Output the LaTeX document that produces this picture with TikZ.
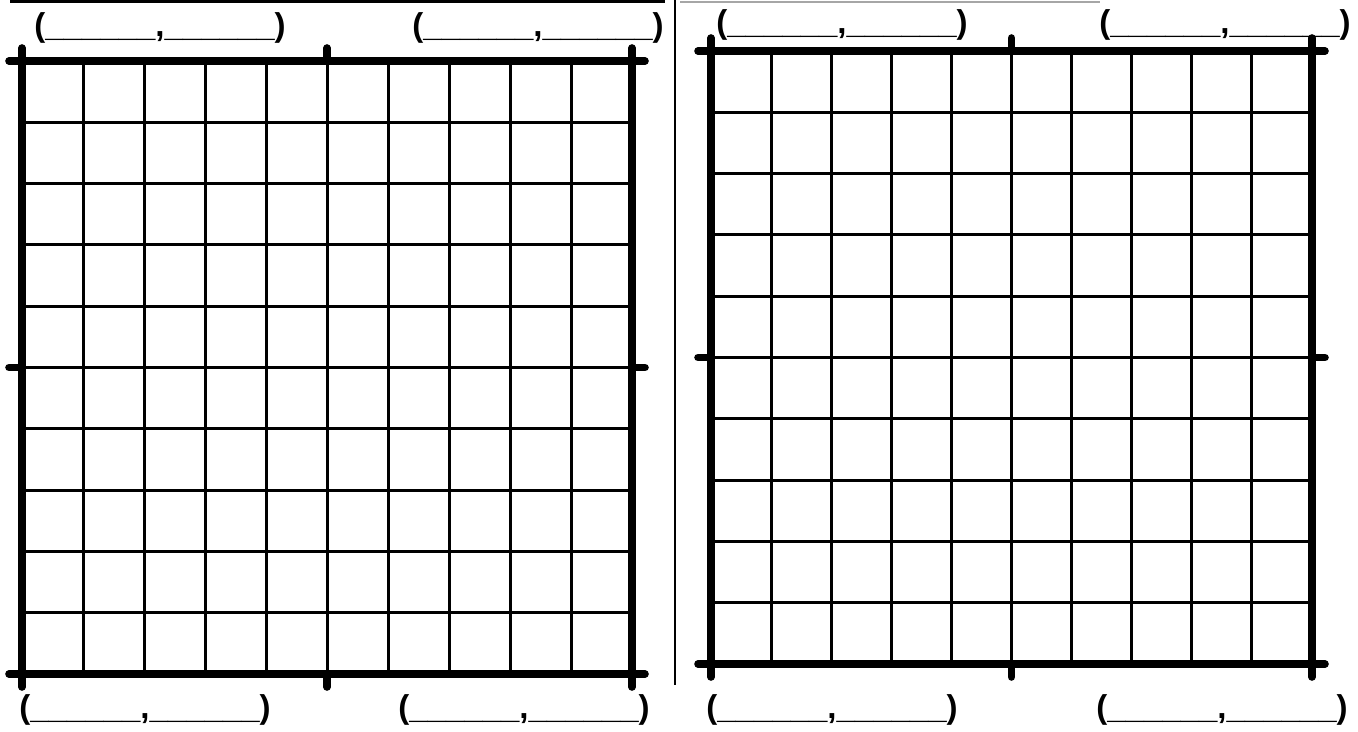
\documentclass[tikz,border=0pt]{standalone}
\usepackage{fontspec}
\setmainfont{Liberation Sans}
\begin{document}
\begin{tikzpicture}[
  x=0.5pt, y=-0.5pt,
  gridline/.style={line width=1.5pt},
  frameline/.style={line width=3.8pt, line cap=round},
  blank/.style={font=\fontsize{16.5}{18}\selectfont\bfseries, inner sep=0pt}]

  \useasboundingbox (0,0) rectangle (1358,732);
  \fill[white] (0,0) rectangle (1358,732);

  % page rules
  \draw[line width=1.5pt] (10,2) -- (665,2);
  \draw[line width=1pt, black!35] (680,2) -- (1100,2);
  \draw[line width=1.1pt] (675,0) -- (675,685);

  % the two grids
  \foreach \xa/\xb/\ya/\yb in {22/632/61/674, 711/1312/51/664} {
    \foreach \i in {1,...,9} {
      \draw[gridline] ({\xa+(\xb-\xa)*\i/10},\ya) -- ({\xa+(\xb-\xa)*\i/10},\yb);
      \draw[gridline] (\xa,{\ya+(\yb-\ya)*\i/10}) -- (\xb,{\ya+(\yb-\ya)*\i/10});
    }
    \draw[frameline] (\xa-13,\ya) -- (\xb+13,\ya);
    \draw[frameline] (\xa-13,\yb) -- (\xb+13,\yb);
    \draw[frameline] (\xa,\ya-13) -- (\xa,\yb+13);
    \draw[frameline] (\xb,\ya-13) -- (\xb,\yb+13);
    % middle ticks
    \draw[frameline] ({(\xa+\xb)/2},\ya-13) -- ({(\xa+\xb)/2},\ya);
    \draw[frameline] ({(\xa+\xb)/2},\yb) -- ({(\xa+\xb)/2},\yb+13);
    \draw[frameline] (\xa-13,{(\ya+\yb)/2}) -- (\xa,{(\ya+\yb)/2});
    \draw[frameline] (\xb,{(\ya+\yb)/2}) -- (\xb+13,{(\ya+\yb)/2});
  }

  % coordinate blanks
  \node[blank] (lefttl) at (160,28) {(\_\_\_\_\_\_,\_\_\_\_\_\_)};
  \node[blank] (lefttr) at (538,28) {(\_\_\_\_\_\_,\_\_\_\_\_\_)};
  \node[blank] (leftbl) at (145,710) {(\_\_\_\_\_\_,\_\_\_\_\_\_)};
  \node[blank] (leftbr) at (524,710) {(\_\_\_\_\_\_,\_\_\_\_\_\_)};
  \node[blank] (righttl) at (842,25) {(\_\_\_\_\_\_,\_\_\_\_\_\_)};
  \node[blank] (righttr) at (1225,25) {(\_\_\_\_\_\_,\_\_\_\_\_\_)};
  \node[blank] (rightbl) at (832,710) {(\_\_\_\_\_\_,\_\_\_\_\_\_)};
  \node[blank] (rightbr) at (1222,710) {(\_\_\_\_\_\_,\_\_\_\_\_\_)};
\end{tikzpicture}
\end{document}
